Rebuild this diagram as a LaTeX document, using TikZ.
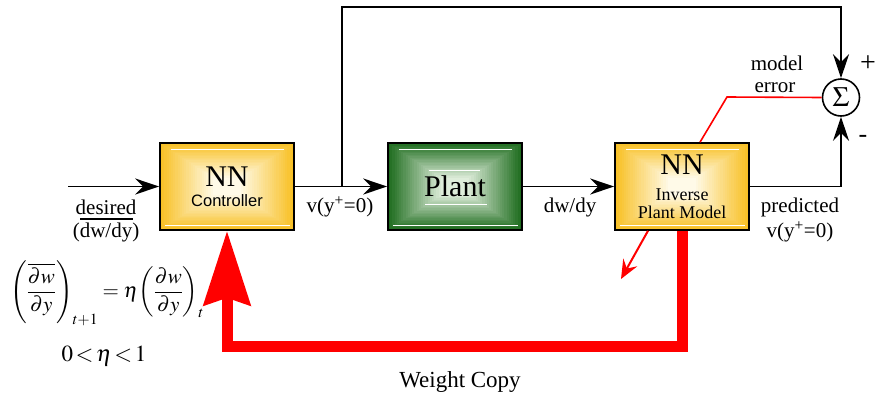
\documentclass[tikz,border=0pt]{standalone}
\usepackage{mathptmx}
\usepackage{fontspec}
\setmainfont{Liberation Serif}
\newfontfamily\arialfont{Liberation Sans}
\usetikzlibrary{arrows.meta,calc}

\definecolor{nngold}{RGB}{248,192,36}
\definecolor{nnpale}{RGB}{255,252,240}
\definecolor{plantgreen}{RGB}{30,108,30}
\definecolor{plantpale}{RGB}{230,242,226}

\newcommand{\fs}[1]{\fontsize{#1}{#1}\selectfont}

\begin{document}
\begin{tikzpicture}[
  x=1pt, y=-1pt,
  % bevelled box: nested rectangles from edge colour to centre colour
  bevel/.style 2 args={path picture={
    \foreach \k in {0,...,24}{
      \pgfmathtruncatemacro{\mix}{100-4*\k}
      \fill[#1!\mix!#2]
        ([shift={(\k*2.2pt,\k*1.45pt)}]path picture bounding box.south west)
        rectangle
        ([shift={(-\k*2.2pt,-\k*1.45pt)}]path picture bounding box.north east);
    }}},
  block/.style={draw, line width=1.6pt, minimum width=134pt,
                minimum height=87pt, inner sep=0pt, align=center},
  nnblock/.style={block, bevel={nngold}{nnpale}},
  plantblock/.style={block, bevel={plantgreen}{plantpale}},
  hl/.style={white, line width=0.9pt},
  sumnode/.style={circle, draw, line width=1.6pt, minimum size=37pt,
                  inner sep=0pt, font=\fs{28}},
  arr/.style={-{Stealth[length=24pt, width=16pt, inset=8pt]}, line width=1.6pt},
  errline/.style={red, line width=1.6pt},
  errarr/.style={red, line width=2pt, -{Stealth[length=19pt, width=16pt, inset=7pt]}},
  copyarr/.style={red, line width=11pt, line join=miter,
                  -{Stealth[length=74pt, width=46pt, inset=7pt]}},
  lbl/.style={font=\fs{21}, inner sep=0pt}
]
  \useasboundingbox (0,0) rectangle (876,399);

  % Blocks
  \node[nnblock] (ctrl) at (227,186.5)
    {\fs{30}NN\\[8pt]\arialfont\fs{16.5}Controller};
  \node[plantblock] (plant) at (455,186.5) {\fs{30}\raisebox{-4pt}{Plant}};
  \node[nnblock] (inv) at (682,186.5)
    {\fs{30}\raisebox{8pt}{NN}\\[6pt]\fs{18}Inverse\\[4pt]\fs{18}Plant Model};
  \node[sumnode] (sum) at (841,97.5) {$\Sigma$};

  % highlights on the blocks
  \foreach \b in {ctrl,plant,inv}{
    \draw[hl] ([xshift=12pt,yshift=-7pt]\b.north west) -- ([xshift=-11pt,yshift=-7pt]\b.north east);
    \draw[hl] ([xshift=6pt,yshift=5pt]\b.south west) -- ([xshift=-5pt,yshift=5pt]\b.south east);
  }
  \draw[hl] ([xshift=-26pt,yshift=16pt]plant.center) -- ([xshift=25pt,yshift=16pt]plant.center);
  \draw[hl] ([xshift=-30pt,yshift=-18pt]plant.center) -- ([xshift=32pt,yshift=-18pt]plant.center);

  % Signal path
  \coordinate (in) at (68,186.5);
  \coordinate (tap) at (342,186.5);
  \coordinate (top) at (342,7);
  \draw[arr] (in) -- (ctrl.west);
  \draw[arr] (ctrl.east) -- (plant.west);
  \draw[arr] (plant.east) -- (inv.west);
  \draw[arr] (tap) -- (top) -| (sum.north);
  \draw[arr] (inv.east) -| (sum.south);

  % Model error and adaptation
  \coordinate (kink) at (727,97);
  \coordinate (drop) at (621,279);
  \draw[errline] (sum.west) -- (kink) -- ([xshift=18pt]inv.north);
  \draw[errarr] ([xshift=-34pt]inv.south) -- (drop);

  % Weight copy
  \coordinate (copy) at (227,346);
  \draw[copyarr] (inv.south) |- (copy) -- (ctrl.south);

  % Labels
  \node[lbl] (desired) at (106,207) {desired};
  \node[lbl] (desireddw) at (106,232) {(dw/dy)};
  \draw[line width=1.2pt] (80,219) -- (133,219);
  \node[lbl] (vlbl) at (340,207) {v(y\textsuperscript{+}=0)};
  \node[lbl] (dwlbl) at (570,207) {dw/dy};
  \node[lbl] (pred) at (800,207) {predicted};
  \node[lbl] (predv) at (800,232) {v(y\textsuperscript{+}=0)};
  \node[lbl] (model) at (777,63) {model};
  \node[lbl] (error) at (775,88) {error};
  \node[lbl, font=\fs{28}] (plus) at (868,64) {+};
  \node[lbl, font=\fs{26}] (minus) at (863,139) {-};
  \node[lbl, font=\fs{23}] (wcopy) at (460,382) {Weight Copy};

  % Update rule
  \node[inner sep=0pt, font=\fs{21}] (rule) at (107,293)
    {$\displaystyle\left(\frac{\overline{\partial w}}{\partial y}\right)_{t+1}
      = \eta\!\left(\frac{\partial w}{\partial y}\right)_{t}$};
  \node[inner sep=0pt, font=\fs{23}] (eta) at (104,356) {$0\!<\!\eta\!<\!1$};
\end{tikzpicture}
\end{document}
